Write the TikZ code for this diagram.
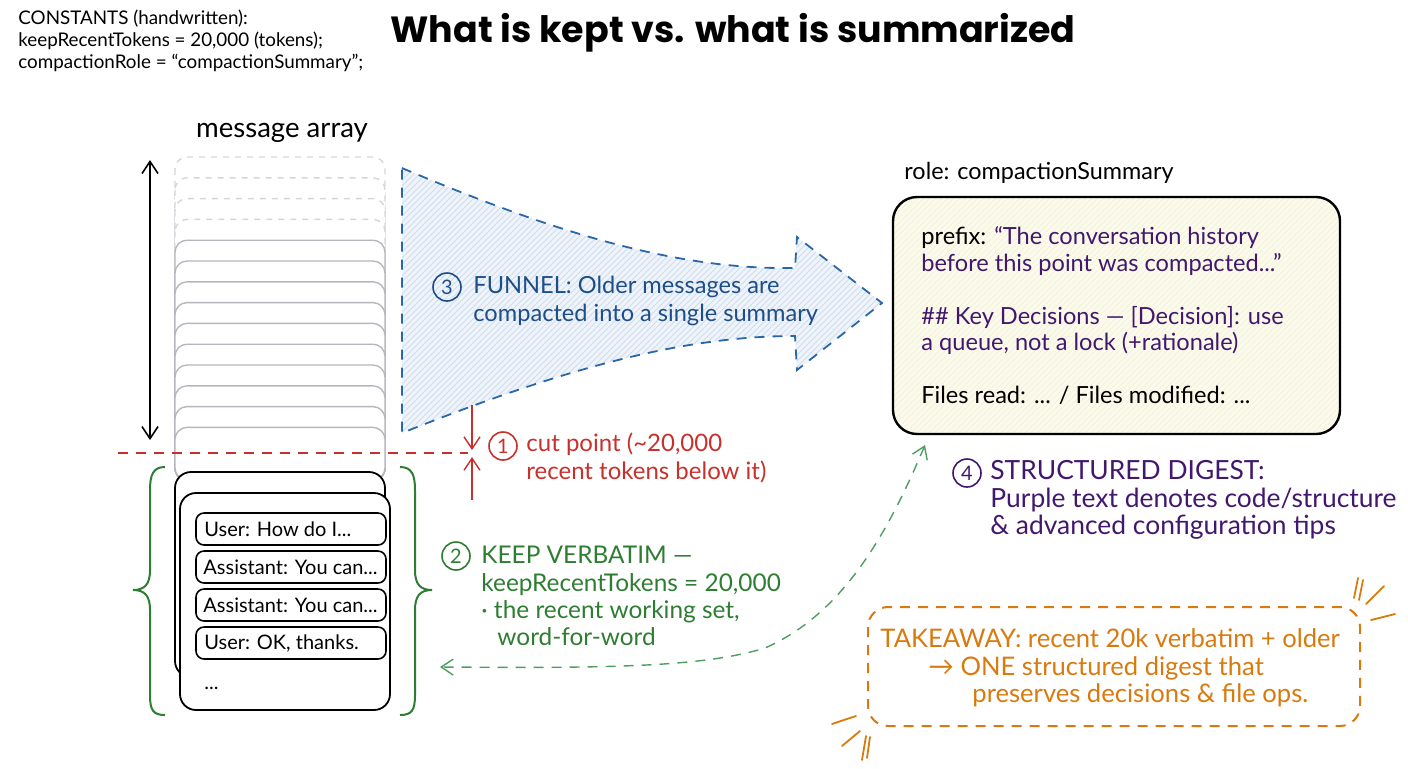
\documentclass[tikz,border=0pt]{standalone}
\usepackage{fontspec}
\setmainfont{Lato}
\newfontfamily\titlefont{Poppins}
\usetikzlibrary{arrows.meta,patterns}
\definecolor{cblue}{HTML}{2A67A8}
\definecolor{cbluetxt}{HTML}{1E4E8A}
\definecolor{cbluefill}{HTML}{EEF4FB}
\definecolor{cred}{HTML}{C8302C}
\definecolor{cgreen}{HTML}{2E7D32}
\definecolor{cgreenl}{HTML}{4E9E62}
\definecolor{cpurple}{HTML}{42186E}
\definecolor{corange}{HTML}{D97A0F}
\definecolor{cyellow}{HTML}{FCFBE8}
\definecolor{cghost}{HTML}{B4B8BE}
\definecolor{cghostl}{HTML}{D3D7DC}
\tikzset{
  txt/.style={anchor=west, inner sep=0pt, align=left, font=\fontsize{11.8}{13.6}\selectfont},
  num/.style={circle, draw, line width=0.8pt, inner sep=0pt, minimum size=14pt, font=\fontsize{10}{10}\selectfont},
  ghost/.style={draw=cghost, fill=white, line width=0.7pt, rounded corners=6pt},
  ghostd/.style={draw=cghostl, fill=white, line width=0.7pt, rounded corners=6pt, dashed},
  card/.style={draw=black, fill=white, line width=0.9pt, rounded corners=8pt},
  msg/.style={draw=black, fill=white, line width=0.8pt, rounded corners=4pt},
  msgtxt/.style={anchor=west, inner sep=0pt, font=\fontsize{10}{12}\selectfont},
  barb/.style={-{Straight Barb[length=6pt,width=8pt]}},
  dbarb/.style={{Straight Barb[length=6pt,width=8pt]}-{Straight Barb[length=6pt,width=8pt]}},
}
\begin{document}
\begin{tikzpicture}[x=0.5pt,y=-0.5pt]
\useasboundingbox (0,0) rectangle (1408,768);

% constants
\node[txt, anchor=north west, font=\fontsize{9.4}{11}\selectfont] (const) at (18,10)
  {CONSTANTS (handwritten):\\keepRecentTokens = 20,000 (tokens);\\compactionRole = “compactionSummary”;};

% title
\node[inner sep=0pt, font=\titlefont\bfseries\fontsize{18.2}{20}\selectfont] (title) at (733,33) {What is kept vs. what is summarized};

% message array label
\node[inner sep=0pt, font=\fontsize{13.8}{16}\selectfont] (malabel) at (282,133) {message array};

% vertical double arrow
\coordinate (vtop) at (150,160);
\coordinate (vbot) at (150,440);
\draw[dbarb, line width=0.8pt] (vtop) -- (vbot);

% ghost stack
\foreach \i in {0,1,2,3}{
  \draw[ghostd] (175,{157+20.8*\i}) rectangle (385,480);
}
\foreach \i in {4,...,13}{
  \draw[ghost] (175,{157+20.8*\i}) rectangle (385,480);
}

% blue funnel
\path[fill=cbluefill] (402,168) .. controls (560,235) and (680,270) .. (795,268) -- (797,237) -- (882,303) -- (797,370) -- (795,336) .. controls (680,336) and (560,370) .. (402,433) -- cycle;
\path[pattern=north east lines, pattern color=cblue!22] (402,168) .. controls (560,235) and (680,270) .. (795,268) -- (797,237) -- (882,303) -- (797,370) -- (795,336) .. controls (680,336) and (560,370) .. (402,433) -- cycle;
\draw[cblue, dashed, line width=0.9pt, dash pattern=on 5pt off 4pt] (402,168) .. controls (560,235) and (680,270) .. (795,268) -- (797,237) -- (882,303) -- (797,370) -- (795,336) .. controls (680,336) and (560,370) .. (402,433) -- cycle;
\node[num, draw=cbluetxt, text=cbluetxt] (n3) at (447,287) {3};
\node[txt, text=cbluetxt] (funnel) at (473,301) {FUNNEL: Older messages are\\compacted into a single summary};

% red cut line
\coordinate (cutL) at (118,453);
\coordinate (cutR) at (468,453);
\draw[cred, dashed, line width=0.8pt, dash pattern=on 5pt off 4pt] (cutL) -- (cutR);
\coordinate (ra1) at (472,405); \coordinate (ra2) at (472,450);
\coordinate (rb1) at (472,500); \coordinate (rb2) at (472,457);
\draw[cred, barb, line width=0.7pt] (ra1) -- (ra2);
\draw[cred, barb, line width=0.7pt] (rb1) -- (rb2);
\node[num, draw=cred, text=cred] (n1) at (503,446) {1};
\node[txt, text=cred, font=\fontsize{12}{13.6}\selectfont] (cut) at (526,458) {cut point (\textasciitilde20,000\\recent tokens below it)};

% front cards
\draw[card] (175,472) rectangle (385,677);
\draw[card] (180,493) rectangle (390,710);
\node[msg, minimum width=95pt, minimum height=16pt, inner sep=0pt] (m1) at (291,529) {};
\node[msg, minimum width=95pt, minimum height=16pt, inner sep=0pt] (m2) at (291,567) {};
\node[msg, minimum width=95pt, minimum height=16pt, inner sep=0pt] (m3) at (291,605) {};
\node[msg, minimum width=95pt, minimum height=16pt, inner sep=0pt] (m4) at (291,643) {};
\node[msgtxt] (t1) at (204,529) {User: How do I...};
\node[msgtxt] (t2) at (203,567) {Assistant: You can...};
\node[msgtxt] (t3) at (203,605) {Assistant: You can...};
\node[msgtxt] (t4) at (204,643) {User: OK, thanks.};
\node[msgtxt] (t5) at (204,688) {...};

% green braces
\draw[cgreen, line width=1pt] (165,467) .. controls (153,467) and (150,475) .. (150,490) -- (150,570) .. controls (150,584) and (145,590) .. (133,590) .. controls (145,590) and (150,596) .. (150,610) -- (150,695) .. controls (150,710) and (153,715) .. (165,715);
\draw[cgreen, line width=1pt] (400,467) .. controls (412,467) and (415,475) .. (415,490) -- (415,570) .. controls (415,584) and (420,590) .. (432,590) .. controls (420,590) and (415,596) .. (415,610) -- (415,695) .. controls (415,710) and (412,715) .. (400,715);

% green text
\node[num, draw=cgreen, text=cgreen] (n2) at (456,556) {2};
\node[txt, text=cgreen, font=\fontsize{12.2}{13.6}\selectfont] (keep) at (481,596) {KEEP VERBATIM —\\keepRecentTokens = 20,000\\· the recent working set,\\\hspace*{8pt}word-for-word};

% summary box
\node[inner sep=0pt, font=\fontsize{11.7}{13}\selectfont] (rolelbl) at (1039,173) {role: compactionSummary};
\path[fill=cyellow, rounded corners=12pt] (893,197) rectangle (1340,434);
\path[pattern=north east lines, pattern color=black!6, rounded corners=12pt] (893,197) rectangle (1340,434);
\draw[line width=1.2pt, rounded corners=12pt] (893,197) rectangle (1340,434);
\coordinate (sumbl) at (925,445);
\node[txt, anchor=north west, font=\fontsize{11.8}{13.4}\selectfont] (sumtext) at (921,226)
  {prefix: \textcolor{cpurple}{“The conversation history}\\
   \textcolor{cpurple}{before this point was compacted...”}\\[13pt]
   \textcolor{cpurple}{\#\# Key Decisions — [Decision]: use}\\
   \textcolor{cpurple}{a queue, not a lock (+rationale)}\\[13pt]
   Files read: ... / Files modified: ...};

% green dashed connector
\coordinate (keepend) at (440,667);
\draw[cgreenl, dbarb, dashed, line width=0.7pt, dash pattern=on 5pt off 4pt] (sumbl) .. controls (885,540) and (840,615) .. (765,648) .. controls (700,668) and (600,668) .. (keepend);

% digest note
\node[num, draw=cpurple, text=cpurple] (n4) at (967,473) {4};
\node[txt, text=cpurple, font=\fontsize{13.2}{13.6}\selectfont] (digest) at (990,500) {STRUCTURED DIGEST:\\Purple text denotes code/structure\\\& advanced configuration tips};

% takeaway
\draw[corange, dashed, line width=1pt, dash pattern=on 5pt off 4pt, rounded corners=10pt] (868,607) rectangle (1360,726);
\node[txt, text=corange, font=\fontsize{12.8}{13.8}\selectfont] (take) at (880,668)
  {TAKEAWAY: recent 20k verbatim + older\\\hspace*{24pt}→ ONE structured digest that\\\hspace*{46pt}preserves decisions \& file ops.};

% sparks
\draw[corange, line width=0.9pt, line cap=round] (1354,598) -- (1358,578) (1359,600) -- (1363,580)
  (1366,604) -- (1384,586) (1371,620) -- (1395,614);
\draw[corange, line width=0.9pt, line cap=round] (832,724) -- (856,716) (842,746) -- (860,731) (862,760) -- (866,736) (867,758) -- (870,737);
\end{tikzpicture}
\end{document}
